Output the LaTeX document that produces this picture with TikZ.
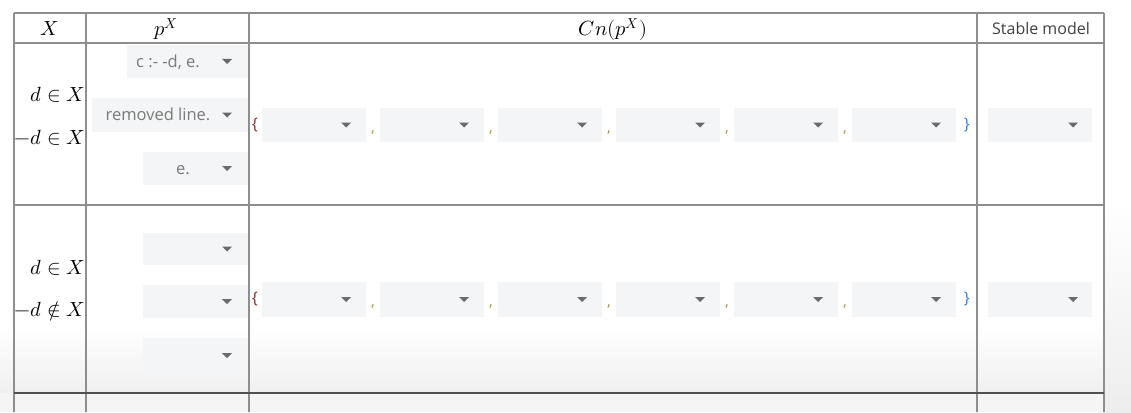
\documentclass[tikz,border=0pt]{standalone}
\usepackage{fontspec}
\usepackage{unicode-math}
\setmathfont{Latin Modern Math}
\newfontfamily\uifont{Open Sans}
\definecolor{gridc}{HTML}{8E8E8E}
\definecolor{botc}{HTML}{505050}
\definecolor{ddfillc}{HTML}{F4F5F6}
\definecolor{ddtextc}{HTML}{7A7A7A}
\definecolor{arrowc}{HTML}{6A6A6A}
\definecolor{lbrace}{HTML}{8B2A2A}
\definecolor{rbrace}{HTML}{3B7DD8}
\definecolor{commac}{HTML}{A8923C}
\definecolor{hdrtext}{HTML}{404040}
\tikzset{
  ddfill/.style={rectangle, fill=ddfillc, draw=none, inner sep=0pt},
  ddtext/.style={font=\uifont\fontsize{16.5}{19}\selectfont, text=ddtextc, inner sep=0pt},
  mathlbl/.style={font=\fontsize{20.5}{24}\selectfont, inner sep=0pt},
  hdrsans/.style={font=\uifont\fontsize{16}{19}\selectfont, text=hdrtext, inner sep=0pt},
  bracel/.style={font=\uifont\fontsize{16}{19}\selectfont, text=lbrace, inner sep=0pt},
  bracer/.style={font=\uifont\fontsize{16}{19}\selectfont, text=rbrace, inner sep=0pt},
  commasep/.style={font=\uifont\fontsize{15}{18}\selectfont, text=commac, inner sep=0pt},
  gridline/.style={draw=gridc, line width=1.2pt},
  bottomline/.style={draw=botc, line width=1.8pt},
}
% #1 name, #2 x1, #3 y1, #4 x2, #5 y2, #6 arrow x, #7 text centre x, #8 text
\newcommand\ddbox[8]{%
  \node[ddfill, minimum width={#4-#2}, minimum height={#5-#3}] (#1) at ({(#2+#4)/2},{(#3+#5)/2}) {};
  \node[ddtext, anchor=base] (#1t) at (#7,{(#3+#5)/2+5.5}) {#8};
  \fill[arrowc] ({#6-5},{(#3+#5)/2-2.5}) -- ++(10,0) -- ++(-5,5) -- cycle;
}
% row of Cn boxes: #1 prefix, #2 y1, #3 y2
\newcommand\cnrow[3]{%
  \node[bracel] (#1lb) at (255,{(#2+#3)/2}) {\{};
  \foreach \i/\xs in {1/262,2/380,3/498,4/616,5/734,6/852}{
    \ddbox{#1b\i}{\xs}{#2}{\xs+104}{#3}{\xs+84}{\xs+40}{}
  }
  \foreach \i/\xc in {1/373,2/491,3/609,4/727,5/845}{
    \node[commasep, anchor=base] (#1c\i) at (\xc,{(#2+#3)/2+7}) {,};
  }
  \node[bracer] (#1rb) at (967,{(#2+#3)/2}) {\}};
  \ddbox{#1sm}{988}{#2}{1092}{#3}{1073}{1030}{}
}
\begin{document}
\begin{tikzpicture}[x=1pt,y=-1pt]
\useasboundingbox (0,0) rectangle (1131,412);
\fill[white] (0,0) rectangle (1131,412);
\shade[top color=white, bottom color=black!6] (0,325) rectangle (1131,393);
\fill[black!4] (0,393) rectangle (1131,412);
\shade[top color=white, bottom color=black!7] (1104,200) rectangle (1131,412);

% header
\node[mathlbl, anchor=base] (hX) at (50,36) {$X$};
\node[mathlbl, anchor=base] (hp) at (166,36) {$p^X$};
\node[mathlbl, anchor=base] (hcn) at (613,36) {$Cn(p^X)$};
\node[hdrsans, anchor=base] (hsm) at (1041,35) {Stable model};

% row 1
\node[mathlbl, anchor=base east] (r1a) at (85,101) {$d\in X$};
\node[mathlbl, anchor=base east] (r1b) at (85,144) {$-d\in X$};
\ddbox{p1a}{127}{45}{248}{78}{227}{168}{c :- -d, e.}
\ddbox{p1b}{92}{98}{248}{132}{227}{158}{removed line.}
\ddbox{p1c}{143}{152}{248}{185}{227}{183}{e.}
\cnrow{ra}{108}{142}

% row 2
\node[mathlbl, anchor=base east] (r2a) at (85,274) {$d\in X$};
\node[mathlbl, anchor=base east] (r2b) at (85,316) {$-d\notin X$};
\ddbox{p2a}{143}{233}{248}{265}{227}{190}{}
\ddbox{p2b}{143}{285}{248}{318}{227}{190}{}
\ddbox{p2c}{143}{338}{248}{373}{227}{190}{}
\cnrow{rb}{282}{317}

% grid
\draw[gridline] (14,13) -- (1104,13);
\draw[gridline] (14,43) -- (1104,43);
\draw[gridline] (14,205) -- (1104,205);
\foreach \xx in {14,86,249,977,1104}{
  \draw[gridline] (\xx,13) -- (\xx,412);
}
\draw[bottomline] (14,393) -- (1104,393);
\end{tikzpicture}
\end{document}
